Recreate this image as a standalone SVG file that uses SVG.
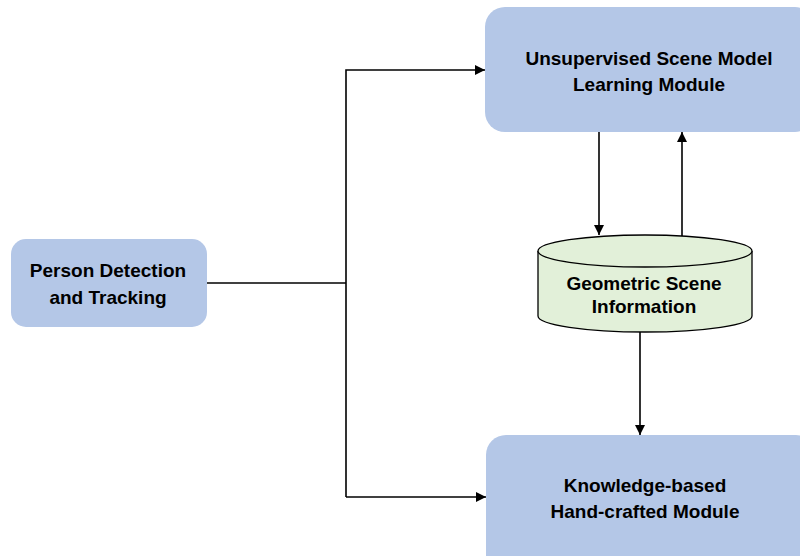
<svg xmlns="http://www.w3.org/2000/svg" width="800" height="556" viewBox="0 0 800 556">
<defs>
<marker id="ah" viewBox="0 0 10 10" refX="10" refY="5" markerWidth="10" markerHeight="10" markerUnits="userSpaceOnUse" orient="auto">
<path d="M0,0 L10,5 L0,10 z" fill="#000"/>
</marker>
<style>
.box{fill:#B4C7E7;stroke:none}
.cyl{fill:#E2F0D9;stroke:#000;stroke-width:1.3}
.lbl{font-family:"Liberation Sans",Arial,sans-serif;font-weight:bold;font-size:19px;fill:#000;text-anchor:middle}
.ln{fill:none;stroke:#000;stroke-width:1.6}
</style>
</defs>
<rect width="800" height="556" fill="#fff"/>
<g id="connectors">
<path class="ln" d="M207,283 H346"/>
<path class="ln" d="M346,497 V70 H485" marker-end="url(#ah)"/>
<path class="ln" d="M346,497 H486" marker-end="url(#ah)"/>
<path class="ln" d="M599,131 V235" marker-end="url(#ah)"/>
<path class="ln" d="M682,236 V132" marker-end="url(#ah)"/>
<path class="ln" d="M640,332 V435" marker-end="url(#ah)"/>
</g>
<g id="unsupervised">
<rect class="box" x="485" y="7" width="330" height="125" rx="20"/>
<text class="lbl" x="649" y="65">Unsupervised Scene Model</text>
<text class="lbl" x="649" y="91">Learning Module</text>
</g>
<g id="person">
<rect class="box" x="11" y="239" width="196" height="88" rx="15"/>
<text class="lbl" x="108" y="277">Person Detection</text>
<text class="lbl" x="108" y="304">and Tracking</text>
</g>
<g id="geometric">
<path class="cyl" d="M538,251 V316 A107,16 0 0 0 752,316 V251 A107,16 0 0 0 538,251 Z"/>
<path class="cyl" d="M538,251 A107,16 0 0 0 752,251" fill="none"/>
<text class="lbl" x="644" y="290">Geometric Scene</text>
<text class="lbl" x="644" y="313">Information</text>
</g>
<g id="knowledge">
<rect class="box" x="486" y="435" width="330" height="140" rx="20"/>
<text class="lbl" x="645" y="492">Knowledge-based</text>
<text class="lbl" x="645" y="518">Hand-crafted Module</text>
</g>
</svg>
